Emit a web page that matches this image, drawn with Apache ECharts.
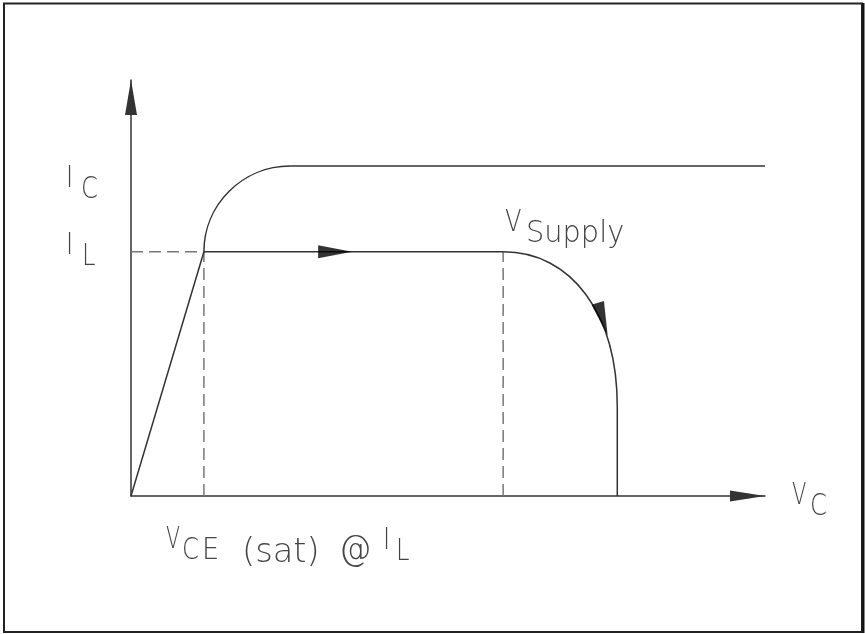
<!DOCTYPE html>
<html>
<head>
<meta charset="utf-8">
<script src="https://cdn.jsdelivr.net/npm/echarts@6/dist/echarts.min.js"></script>
<style>
  html, body { margin: 0; padding: 0; background: #fff; }
  #chart { width: 865px; height: 634px; }
</style>
</head>
<body>
<div id="chart"></div>
<script>
  // axis ranges (arbitrary units, 0..100 of each axis)
  const vMax = 100;
  const iMax = 100;

  // saturation ramp: origin up to the knee at VCE(sat), IL
  const rampV = [0, 11.5];
  const rampI = [0, 58.7];

  // knee bend (start, end) then flat at IC
  const kneeV = [11.5, 25.1];
  const kneeI = [58.7, 79.3];
  const flatV = [25.1, 100];
  const flatI = [79.3, 79.3];

  // load line at IL
  const loadV = [11.5, 58.7];
  const loadI = [58.7, 58.7];

  // fall-off after VSupply (start, end) then straight down
  const dropV = [58.7, 76.7];
  const dropI = [58.7, 21.4];
  const tailV = [76.7, 76.7];
  const tailI = [21.4, 0];

  // reference levels
  const satV = 11.5;
  const supplyV = 58.7;
  const loadCurrent = 58.7;

  // direction arrows on the path: [v, i, rotate]
  const pathArrows = [
    [32.2, 58.7, 270],
    [74.4, 42.5, 197]
  ];

  const pairs = (xs, ys) => xs.map((x, i) => [x, ys[i]]);

  const ink = '#333';
  const dashColor = '#777';
  const textColor = '#444';
  const font = 'DejaVu Sans';

  const lbl = (text, x, y, sx, size) => ({
    type: 'text',
    x: x,
    y: y,
    scaleX: sx || 0.78,
    silent: true,
    style: {
      text: text,
      fontFamily: font,
      fontWeight: 200,
      fontSize: size || 31,
      fill: textColor,
      verticalAlign: 'middle'
    }
  });

  const solid = (data) => ({
    type: 'line',
    data: data,
    showSymbol: false,
    silent: true,
    lineStyle: { color: ink, width: 1.5 },
    z: 3
  });

  const dashed = (data) => ({
    type: 'line',
    data: data,
    showSymbol: false,
    silent: true,
    lineStyle: { color: dashColor, width: 1.5, type: [12, 6] },
    z: 1
  });

  // rounded bend between two points; corner picks which tangent is used
  const bend = (xs, ys, cornerAtStartX, k) => ({
    type: 'custom',
    silent: true,
    z: 3,
    data: [[xs[0], ys[0], xs[1], ys[1]]],
    encode: { x: [0, 2], y: [1, 3] },
    renderItem: (params, api) => {
      const p0 = api.coord([api.value(0), api.value(1)]);
      const p3 = api.coord([api.value(2), api.value(3)]);
      const c = cornerAtStartX ? [p0[0], p3[1]] : [p3[0], p0[1]];
      return {
        type: 'bezierCurve',
        shape: {
          x1: p0[0], y1: p0[1],
          x2: p3[0], y2: p3[1],
          cpx1: p0[0] + (c[0] - p0[0]) * k, cpy1: p0[1] + (c[1] - p0[1]) * k,
          cpx2: p3[0] + (c[0] - p3[0]) * k, cpy2: p3[1] + (c[1] - p3[1]) * k
        },
        style: { stroke: ink, lineWidth: 1.5, fill: 'none' }
      };
    }
  });

  const chart = echarts.init(document.getElementById('chart'), null, { renderer: 'canvas' });

  chart.setOption({
    animation: false,
    backgroundColor: '#fff',
    grid: { left: 131, right: 100, top: 80, bottom: 138 },
    xAxis: {
      type: 'value',
      min: 0,
      max: vMax,
      splitLine: { show: false },
      axisTick: { show: false },
      axisLabel: { show: false },
      axisLine: {
        show: true,
        symbol: ['none', 'triangle'],
        symbolSize: [11, 35],
        symbolOffset: [0, -17.5],
        lineStyle: { color: ink, width: 1.5 }
      }
    },
    yAxis: {
      type: 'value',
      min: 0,
      max: iMax,
      splitLine: { show: false },
      axisTick: { show: false },
      axisLabel: { show: false },
      axisLine: {
        show: true,
        symbol: ['none', 'triangle'],
        symbolSize: [12, 35],
        symbolOffset: [0, -17.5],
        lineStyle: { color: ink, width: 1.5 }
      }
    },
    series: [
      dashed([[0, loadCurrent], [satV, loadCurrent]]),
      dashed([[satV, 0], [satV, loadCurrent]]),
      dashed([[supplyV, 0], [supplyV, loadCurrent]]),
      solid(pairs(rampV, rampI)),
      bend(kneeV, kneeI, true, 0.5523),
      solid(pairs(flatV, flatI)),
      solid(pairs(loadV, loadI)),
      bend(dropV, dropI, false, 0.6),
      solid(pairs(tailV, tailI)),
      {
        type: 'scatter',
        silent: true,
        symbol: 'triangle',
        symbolSize: [13, 34],
        itemStyle: { color: '#000' },
        data: pathArrows.map(a => ({ value: [a[0], a[1]], symbolRotate: a[2] })),
        z: 4
      }
    ],
    graphic: [
      {
        type: 'rect',
        silent: true,
        shape: { x: 4, y: 3.5, width: 858, height: 628.5 },
        style: { fill: 'none', stroke: '#222', lineWidth: 2 }
      },
      {
        type: 'line',
        silent: true,
        shape: { x1: 863.5, y1: 3, x2: 863.5, y2: 633 },
        style: { stroke: '#111', lineWidth: 2 }
      },
      lbl('I', 66, 179),
      lbl('C', 81, 190),
      lbl('I', 66, 246),
      lbl('L', 82, 257),
      lbl('V', 505, 223),
      lbl('Supply', 526, 234, 0.93),
      lbl('V', 792, 496, 0.68),
      lbl('C', 810, 507),
      lbl('V', 166, 540, 0.66),
      lbl('C', 182, 551),
      lbl('E', 202, 551, 0.88),
      lbl('(sat)', 242, 553, 0.99, 34),
      lbl('@', 339, 551, 0.9, 36),
      lbl('I', 383, 541),
      lbl('L', 396, 552)
    ]
  });
</script>
</body>
</html>
